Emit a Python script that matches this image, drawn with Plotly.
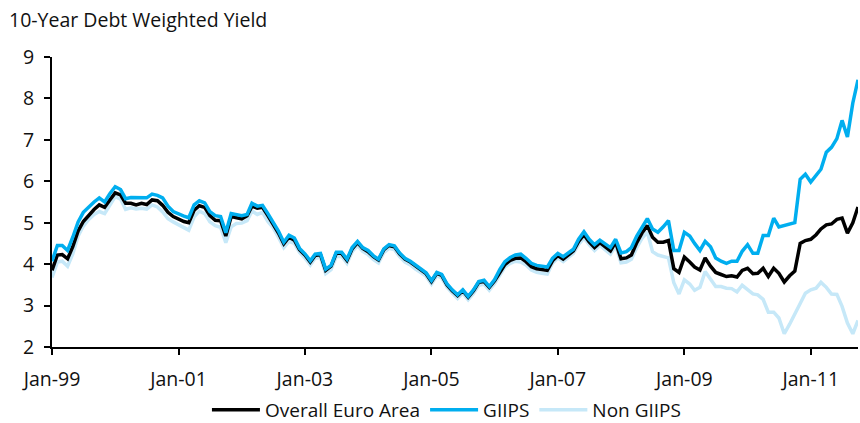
import pandas as pd
import plotly.graph_objects as go

# Monthly observations, Jan 1999 - Oct 2011
months = pd.date_range("1999-01-01", "2011-10-01", freq="MS")

overall_euro_area = [
    # 1999
    3.85, 4.22, 4.23, 4.13, 4.42, 4.80, 5.03, 5.18, 5.32, 5.43, 5.37, 5.55,
    # 2000
    5.72, 5.67, 5.47, 5.47, 5.43, 5.47, 5.44, 5.55, 5.53, 5.42, 5.25, 5.15,
    # 2001
    5.09, 5.03, 5.00, 5.30, 5.41, 5.37, 5.17, 5.06, 5.05, 4.68, 5.15, 5.12,
    # 2002
    5.09, 5.17, 5.40, 5.35, 5.37, 5.17, 4.98, 4.75, 4.49, 4.65, 4.58, 4.35,
    # 2003
    4.22, 4.05, 4.21, 4.23, 3.85, 3.95, 4.26, 4.26, 4.09, 4.37, 4.52, 4.38,
    # 2004
    4.30, 4.18, 4.10, 4.35, 4.45, 4.42, 4.25, 4.12, 4.05, 3.95, 3.85, 3.77,
    # 2005
    3.58, 3.78, 3.73, 3.50, 3.36, 3.24, 3.36, 3.20, 3.36, 3.56, 3.58, 3.44,
    # 2006
    3.60, 3.82, 3.99, 4.09, 4.14, 4.15, 4.06, 3.94, 3.89, 3.87, 3.85, 4.08,
    # 2007
    4.21, 4.12, 4.22, 4.32, 4.55, 4.71, 4.54, 4.40, 4.52, 4.42, 4.32, 4.53,
    # 2008
    4.13, 4.15, 4.22, 4.52, 4.75, 4.93, 4.65, 4.53, 4.53, 4.57, 3.89, 3.80,
    # 2009
    4.17, 4.05, 3.93, 3.86, 4.15, 3.95, 3.80, 3.75, 3.70, 3.72, 3.69, 3.85,
    # 2010
    3.90, 3.77, 3.78, 3.90, 3.70, 3.90, 3.78, 3.57, 3.72, 3.83, 4.50, 4.57,
    # 2011
    4.60, 4.71, 4.85, 4.95, 4.97, 5.08, 5.11, 4.75, 5.00, 5.38,
]

giips = [
    # 1999
    4.07, 4.45, 4.45, 4.33, 4.65, 5.02, 5.25, 5.38, 5.50, 5.60, 5.50, 5.70,
    # 2000
    5.87, 5.80, 5.58, 5.61, 5.61, 5.61, 5.60, 5.69, 5.66, 5.60, 5.40, 5.27,
    # 2001
    5.21, 5.16, 5.12, 5.43, 5.53, 5.48, 5.27, 5.17, 5.15, 4.76, 5.22, 5.20,
    # 2002
    5.17, 5.20, 5.47, 5.40, 5.42, 5.22, 5.03, 4.80, 4.53, 4.70, 4.63, 4.38,
    # 2003
    4.25, 4.08, 4.24, 4.26, 3.88, 3.97, 4.29, 4.29, 4.12, 4.40, 4.55, 4.40,
    # 2004
    4.33, 4.20, 4.12, 4.37, 4.47, 4.44, 4.27, 4.14, 4.07, 3.97, 3.87, 3.79,
    # 2005
    3.60, 3.80, 3.75, 3.52, 3.38, 3.26, 3.38, 3.22, 3.38, 3.58, 3.61, 3.46,
    # 2006
    3.63, 3.88, 4.06, 4.16, 4.22, 4.24, 4.14, 4.02, 3.97, 3.95, 3.93, 4.14,
    # 2007
    4.26, 4.18, 4.27, 4.36, 4.60, 4.78, 4.60, 4.47, 4.58, 4.50, 4.40, 4.60,
    # 2008
    4.27, 4.30, 4.40, 4.68, 4.90, 5.10, 4.85, 4.77, 4.90, 5.05, 4.33, 4.33,
    # 2009
    4.77, 4.68, 4.50, 4.33, 4.55, 4.42, 4.15, 4.07, 4.02, 4.07, 4.07, 4.31,
    # 2010
    4.47, 4.26, 4.26, 4.69, 4.69, 5.11, 4.90, 4.94, 4.97, 5.00, 6.05, 6.17,
    # 2011
    5.98, 6.13, 6.29, 6.70, 6.82, 7.03, 7.47, 7.07, 7.89, 8.45,
]

non_giips = [
    # 1999
    3.68, 4.05, 4.07, 3.95, 4.25, 4.68, 4.92, 5.08, 5.20, 5.27, 5.22, 5.42,
    # 2000
    5.63, 5.57, 5.32, 5.36, 5.33, 5.35, 5.33, 5.43, 5.38, 5.26, 5.10, 5.02,
    # 2001
    4.95, 4.89, 4.82, 5.14, 5.28, 5.22, 5.02, 4.93, 4.89, 4.52, 4.90, 4.98,
    # 2002
    4.99, 5.05, 5.28, 5.20, 5.25, 5.03, 4.88, 4.65, 4.40, 4.55, 4.50, 4.28,
    # 2003
    4.15, 3.98, 4.14, 4.16, 3.77, 3.87, 4.18, 4.19, 4.02, 4.30, 4.45, 4.31,
    # 2004
    4.23, 4.11, 4.03, 4.28, 4.38, 4.35, 4.18, 4.05, 3.98, 3.88, 3.79, 3.71,
    # 2005
    3.52, 3.72, 3.67, 3.44, 3.30, 3.17, 3.30, 3.14, 3.29, 3.49, 3.52, 3.37,
    # 2006
    3.53, 3.76, 3.93, 4.02, 4.07, 4.05, 3.98, 3.86, 3.80, 3.78, 3.76, 4.02,
    # 2007
    4.15, 4.06, 4.16, 4.26, 4.48, 4.63, 4.47, 4.33, 4.45, 4.34, 4.24, 4.45,
    # 2008
    4.03, 4.05, 4.12, 4.40, 4.62, 4.78, 4.30, 4.22, 4.19, 4.15, 3.55, 3.28,
    # 2009
    3.62, 3.52, 3.37, 3.44, 3.82, 3.63, 3.46, 3.46, 3.42, 3.41, 3.33, 3.49,
    # 2010
    3.38, 3.28, 3.26, 3.15, 2.84, 2.84, 2.70, 2.32, 2.55, 2.78, 3.05, 3.30,
    # 2011
    3.38, 3.42, 3.56, 3.44, 3.28, 3.27, 2.98, 2.58, 2.32, 2.64,
]

FONT = "Open Sans"
TEXT = "#111111"
BLUE = "#00AEEF"
LIGHT_BLUE = "#C6E8F8"

fig = go.Figure()

# Drawn bottom-to-top: Non GIIPS, Overall, GIIPS; legend keeps Overall first
fig.add_trace(go.Scatter(
    x=months, y=non_giips, name="Non GIIPS", mode="lines",
    line=dict(color=LIGHT_BLUE, width=3.5), legendrank=3,
))
fig.add_trace(go.Scatter(
    x=months, y=overall_euro_area, name="Overall Euro Area", mode="lines",
    line=dict(color="black", width=3.5), legendrank=1,
))
fig.add_trace(go.Scatter(
    x=months, y=giips, name="GIIPS", mode="lines",
    line=dict(color=BLUE, width=3.5), legendrank=2,
))

fig.update_layout(
    width=860, height=423,
    margin=dict(l=52, r=2, t=57, b=76, autoexpand=False),
    paper_bgcolor="white", plot_bgcolor="white",
    font=dict(family=FONT, size=19.5, color=TEXT),
    title=dict(
        text="10-Year Debt Weighted Yield",
        x=9 / 860, xref="container", xanchor="left",
        y=1 - 20 / 423, yref="container", yanchor="middle",
        font=dict(family=FONT, size=19.5, color=TEXT),
    ),
    showlegend=True,
    legend=dict(
        orientation="h",
        x=0.49, xanchor="center",
        y=13 / 423, yref="container", yanchor="middle",
        font=dict(family=FONT, size=19, color=TEXT),
        itemwidth=48,
        traceorder="normal",
        bgcolor="rgba(0,0,0,0)",
    ),
    xaxis=dict(
        type="date",
        range=["1999-01-01", "2011-10-01"],
        tick0="1999-01-01", dtick="M24",
        tickformat="%b-%y",
        showgrid=False, zeroline=False,
        showline=True, linecolor="black", linewidth=2,
        ticks="outside", ticklen=6, tickwidth=2, tickcolor="black",
        ticklabelstandoff=8,
    ),
    yaxis=dict(
        range=[2, 9], dtick=1,
        showgrid=False, zeroline=False,
        showline=True, linecolor="black", linewidth=2,
        ticks="outside", ticklen=6, tickwidth=2, tickcolor="black",
        ticklabelstandoff=6,
    ),
)

fig.write_html("out.html")
